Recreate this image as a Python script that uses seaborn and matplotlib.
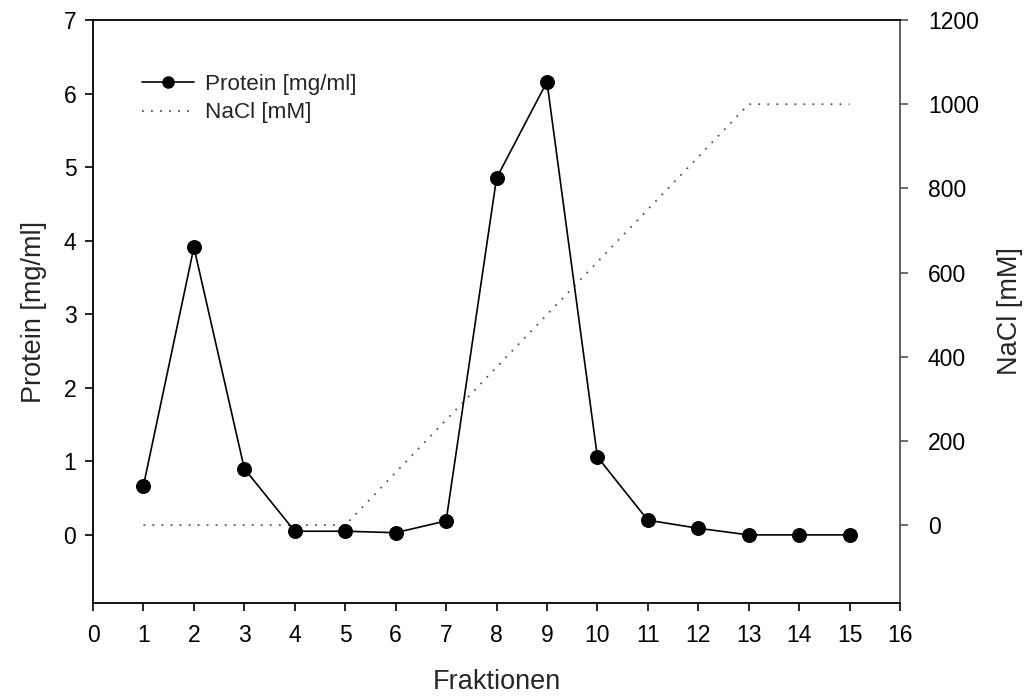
import matplotlib
matplotlib.use("Agg")
import matplotlib.pyplot as plt
import seaborn as sns
import pandas as pd
from matplotlib.lines import Line2D

sns.set_style("ticks")
plt.rcParams['font.family'] = ['Liberation Sans', 'DejaVu Sans']

# Fractions collected from the column
fraktionen = [1, 2, 3, 4, 5, 6, 7, 8, 9, 10, 11, 12, 13, 14, 15]
# Protein concentration per fraction [mg/ml]
protein = [0.67, 3.91, 0.90, 0.05, 0.05, 0.03, 0.19, 4.85, 6.16, 1.06, 0.20, 0.09, 0.0, 0.0, 0.0]
# NaCl gradient [mM]
nacl = [0, 0, 0, 0, 0, 125, 250, 375, 500, 625, 750, 875, 1000, 1000, 1000]

df = pd.DataFrame({"Fraktion": fraktionen, "Protein": protein, "NaCl": nacl})

fig = plt.figure(figsize=(10.28, 6.98), dpi=100)
ax = fig.add_axes([0.0905, 0.1361, 0.7850, 0.8352])
ax2 = ax.twinx()

sns.lineplot(data=df, x="Fraktion", y="NaCl", ax=ax2, color="#555555",
             linestyle=(0, (1, 4)), linewidth=1.3, zorder=1)
sns.lineplot(data=df, x="Fraktion", y="Protein", ax=ax, color="black",
             marker="o", markersize=10, markeredgecolor="black",
             linewidth=1.2, zorder=3)

ax.set_zorder(ax2.get_zorder() + 1)
ax.patch.set_visible(False)

ax.set_xlim(0, 16)
ax.set_ylim(-0.926, 7)
ax2.set_ylim(-185, 1200)
ax.set_xticks(range(0, 17))
ax.set_yticks(range(0, 8))
ax2.set_yticks(range(0, 1201, 200))

fs = 16.5
ax.tick_params(axis="both", labelsize=fs, direction="out", length=6, width=1.2, colors="black")
ax.tick_params(axis="x", pad=9)
ax.tick_params(axis="y", pad=6)
ax2.tick_params(axis="y", labelsize=fs, direction="out", length=6, width=1.2, color="#555555", labelcolor="black", pad=14)

ax.set_xlabel("Fraktionen", fontsize=19.5, labelpad=16)
ax.set_ylabel("Protein [mg/ml]", fontsize=19.5, labelpad=12)
ax2.set_ylabel("NaCl [mM]", fontsize=19.5, labelpad=13)

for side in ["left", "bottom", "top"]:
    ax.spines[side].set_visible(True)
    ax.spines[side].set_linewidth(1.3)
    ax.spines[side].set_color("black")
ax.spines["right"].set_visible(False)
ax2.spines["right"].set_visible(True)
ax2.spines["right"].set_color("#555555")
ax2.spines["right"].set_linewidth(1.3)
for side in ["left", "bottom", "top"]:
    ax2.spines[side].set_visible(False)

handles = [
    Line2D([], [], color="black", marker="o", markersize=8, linewidth=1.2),
    Line2D([], [], color="#555555", linestyle=(0, (1, 4)), linewidth=1.3),
]
ax.legend(handles, ["Protein [mg/ml]", "NaCl [mM]"], loc="upper left",
          bbox_to_anchor=(0.036, 0.943), frameon=False, fontsize=16.2,
          handlelength=2.3, handletextpad=0.5, labelspacing=0.35)

fig.savefig("out.png", dpi=100)
